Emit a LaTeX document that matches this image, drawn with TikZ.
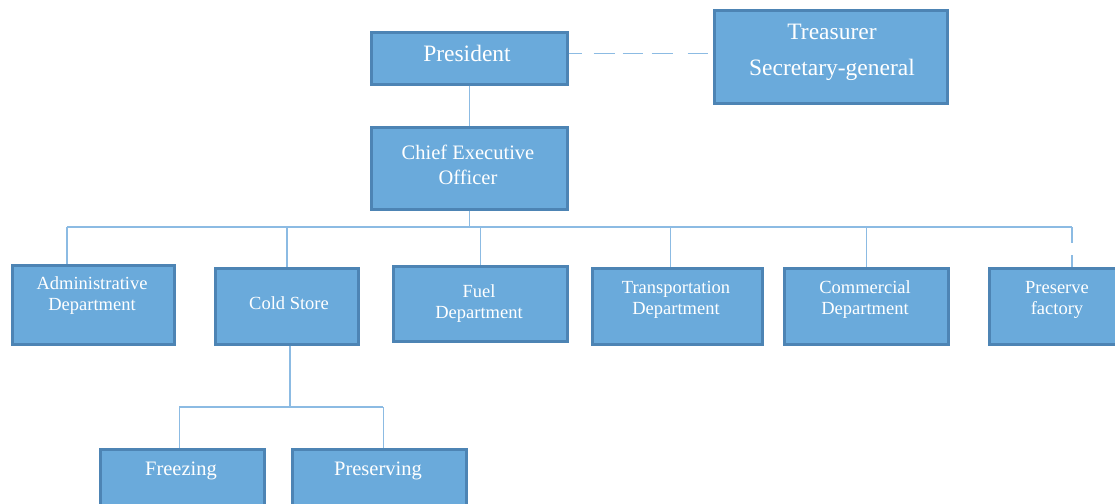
\documentclass[tikz,border=0pt]{standalone}
\usepackage{fontspec}
\setmainfont{Liberation Serif}
\definecolor{boxfill}{HTML}{6AAADB}
\definecolor{boxedge}{HTML}{4D84B4}
\definecolor{linkc}{HTML}{8CBBE3}
\begin{document}
\begin{tikzpicture}[x=1pt,y=-1pt,
  box/.style={draw=boxedge, fill=boxfill, line width=2.6pt, inner sep=0pt, anchor=north west},
  lbl/.style={text=white, align=center, inner sep=0pt},
  big/.style={lbl, font=\fontsize{23.5}{36}\selectfont},
  mid/.style={lbl, font=\fontsize{20.5}{25}\selectfont},
  small/.style={lbl, font=\fontsize{18.5}{21}\selectfont},
  link/.style={draw=linkc, line width=1.5pt}]
\useasboundingbox (0,0) rectangle (1115,503);

% boxes
\node[box, minimum width=196pt, minimum height=52pt] (pres)  at (370,31)  {};
\node[box, minimum width=233pt, minimum height=93pt] (treas) at (713,9)   {};
\node[box, minimum width=196pt, minimum height=82pt] (ceo)   at (370,126) {};
\node[box, minimum width=162pt, minimum height=79pt] (admin) at (11,264)  {};
\node[box, minimum width=143pt, minimum height=76pt] (cold)  at (214,267) {};
\node[box, minimum width=174pt, minimum height=75pt] (fuel)  at (392,265) {};
\node[box, minimum width=170pt, minimum height=76pt] (trans) at (591,267) {};
\node[box, minimum width=164pt, minimum height=76pt] (comm)  at (783,267) {};
\node[box, minimum width=140pt, minimum height=76pt] (pf)    at (988,267) {};
\node[box, minimum width=164pt, minimum height=70pt] (freeze) at (99,448) {};
\node[box, minimum width=174pt, minimum height=70pt] (presv)  at (291,448) {};

% labels
\node[big]   (t-pres)   at (467,53)  {President};
\node[big]   (t-treas)  at (832,52)  {Treasurer\\Secretary-general};
\node[mid]   (t-ceo)    at (468,165) {Chief Executive\\Officer};
\node[small] (t-admin)  at (92,296)  {Administrative\\Department};
\node[small] (t-cold)   at (289,303) {Cold Store};
\node[small] (t-fuel)   at (479,304) {Fuel\\Department};
\node[small] (t-trans)  at (676,300) {Transportation\\Department};
\node[small] (t-comm)   at (865,300) {Commercial\\Department};
\node[small] (t-pf)     at (1057,300) {Preserve\\factory};
\node[mid]   (t-freeze) at (181,471) {Freezing};
\node[mid]   (t-presv)  at (378,471) {Preserving};

% connectors (canvas y points up, so a positive yshift lifts the line)
\draw[link, dash pattern=on 13pt off 12pt on 21pt off 8pt on 20pt off 9pt on 21pt off 15pt on 20pt]
  ([yshift=5pt]pres.east) -- ([yshift=5pt]treas.west |- pres.east);
\draw[link] (pres.south) -- (ceo.north);

\coordinate (admtap) at (67,227);
\coordinate (pftap)  at (1072,227);
\draw[link] (ceo.south) -- (ceo.south |- admtap);
\draw[link] (admtap) -- (pftap);
\draw[link] (admtap) -- (admtap |- admin.north);
\draw[link] (cold.north |- admtap) -- (cold.north);
\draw[link] (fuel.north |- admtap) -- (fuel.north);
\draw[link] ([xshift=-7pt]trans.north |- admtap) -- ([xshift=-7pt]trans.north);
\draw[link] (comm.north |- admtap) -- (comm.north);
\draw[link, dash pattern=on 16pt off 12pt on 30pt] (pftap) -- (pftap |- pf.north);

\coordinate (sub) at (289,407);
\draw[link] ([xshift=3pt]cold.south) -- ([xshift=3pt]cold.south |- sub);
\draw[link] ([xshift=-3pt]freeze.north |- sub) -- ([xshift=4pt]presv.north |- sub);
\draw[link] ([xshift=-3pt]freeze.north |- sub) -- ([xshift=-3pt]freeze.north);
\draw[link] ([xshift=4pt]presv.north |- sub) -- ([xshift=4pt]presv.north);
\end{tikzpicture}
\end{document}
